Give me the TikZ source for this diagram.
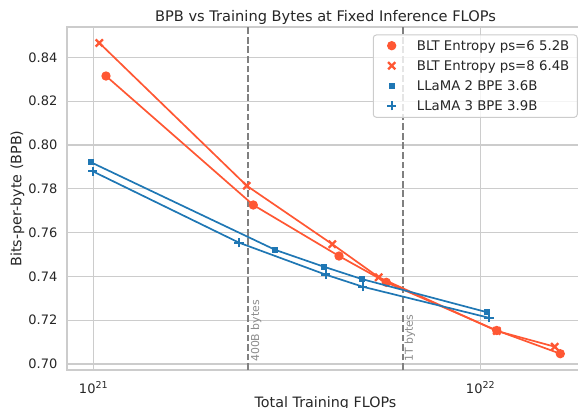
\documentclass[tikz,border=0pt]{standalone}
\usepackage{fontspec}
\setmainfont{DejaVu Sans}
\definecolor{blt}{RGB}{255,87,51}
\definecolor{bpe}{RGB}{31,119,180}
\definecolor{gridc}{RGB}{204,204,204}
\definecolor{tickc}{RGB}{38,38,38}
\definecolor{refc}{RGB}{128,128,128}
\definecolor{reftext}{RGB}{140,140,140}

\tikzset{
  gridline/.style={draw=gridc, line width=1.1pt},
  frame/.style={draw=gridc, line width=1.25pt},
  refline/.style={draw=refc, line width=1.8pt, dash pattern=on 6.7pt off 2.9pt},
  reflabel/.style={text=reftext, font=\fontsize{10.9}{12}\selectfont, rotate=90, anchor=north west, inner sep=0pt},
  ticklab/.style={text=tickc, font=\fontsize{13}{15}\selectfont, inner sep=0pt},
  axlab/.style={text=tickc, font=\fontsize{14.3}{16}\selectfont, inner sep=0pt},
  legtext/.style={text=tickc, font=\fontsize{13.3}{15}\selectfont, inner sep=0pt, anchor=base west},
  bltline/.style={draw=blt, line width=1.7pt, line join=round},
  bpeline/.style={draw=bpe, line width=1.7pt, line join=round},
  mdot/.pic={\fill[blt] (0,0) circle[radius=4.7pt];},
  mcross/.pic={\draw[blt, line width=2.3pt] (-3.6pt,-3.6pt) -- (3.6pt,3.6pt) (-3.6pt,3.6pt) -- (3.6pt,-3.6pt);},
  msquare/.pic={\fill[bpe] (-2.9pt,-2.9pt) rectangle (2.9pt,2.9pt);},
  mplus/.pic={\draw[bpe, line width=2.3pt] (-4.6pt,0) -- (4.6pt,0) (0,-4.6pt) -- (0,4.6pt);},
}

\begin{document}
\begin{tikzpicture}[x=1pt, y=1pt]
\useasboundingbox (0,0) rectangle (578,407);
\begin{scope}
\clip (0,0) rectangle (578,407);

% axes frame and grid
\draw[gridline] (67,43) -- (584,43);
\foreach \k in {1,...,7} \draw[gridline] (67,43+43.8*\k) -- (584,43+43.8*\k);
\draw[gridline] (93.3,37) -- (93.3,380);
\draw[gridline] (480.3,37) -- (480.3,380);
\draw[frame] (67,37) rectangle (584,380);

% reference training-data budgets
\draw[refline] (248.3,37) -- (248.3,380);
\draw[refline] (402.7,37) -- (402.7,380);
\node[reflabel] (l400b) at (250.6,45) {400B bytes};
\node[reflabel] (l1t) at (404.4,45) {1T bytes};

% data: x = log10(FLOPs) - 21, y = BPB - 0.70
\begin{scope}[shift={(93.3,43)}, x=387pt, y=2190pt]
  \coordinate (a1) at (0.0328,0.1315);
  \coordinate (a2) at (0.4134,0.0726);
  \coordinate (a3) at (0.6349,0.0493);
  \coordinate (a4) at (0.7571,0.0373);
  \coordinate (a5) at (1.0424,0.0153);
  \coordinate (a6) at (1.2067,0.0047);

  \coordinate (b1) at (0.0155,0.1466);
  \coordinate (b2) at (0.3964,0.0814);
  \coordinate (b3) at (0.6176,0.0547);
  \coordinate (b4) at (0.7375,0.0396);
  \coordinate (b5) at (1.0424,0.0151);
  \coordinate (b6) at (1.1922,0.0079);

  \coordinate (c1) at (-0.0059,0.0921);
  \coordinate (c2) at (0.4703,0.0521);
  \coordinate (c3) at (0.5961,0.0444);
  \coordinate (c4) at (0.6935,0.0388);
  \coordinate (c5) at (1.0181,0.0236);

  \coordinate (d1) at (-0.0016,0.0880);
  \coordinate (d2) at (0.3765,0.0554);
  \coordinate (d3) at (0.6005,0.0408);
  \coordinate (d4) at (0.6961,0.0353);
  \coordinate (d5) at (1.0225,0.0211);
\end{scope}

\draw[bltline] (a1) -- (a2) -- (a3) -- (a4) -- (a5) -- (a6);
\foreach \p in {a1,a2,a3,a4,a5,a6} \pic at (\p) {mdot};
\draw[bltline] (b1) -- (b2) -- (b3) -- (b4) -- (b5) -- (b6);
\foreach \p in {b1,b2,b3,b4,b5,b6} \pic at (\p) {mcross};
\draw[bpeline] (c1) -- (c2) -- (c3) -- (c4) -- (c5);
\foreach \p in {c1,c2,c3,c4,c5} \pic at (\p) {msquare};
\draw[bpeline] (d1) -- (d2) -- (d3) -- (d4) -- (d5);
\foreach \p in {d1,d2,d3,d4,d5} \pic at (\p) {mplus};

% legend
\draw[draw=gridc, line width=1pt, fill=white, fill opacity=0.8, rounded corners=3pt] (373.3,289.7) rectangle (577.3,372);
\pic at (391.7,361.3) {mdot};
\pic at (391.7,341.3) {mcross};
\pic at (391.7,321.3) {msquare};
\pic at (391.7,301.3) {mplus};
\node[legtext] (k1) at (416.7,356.5) {BLT Entropy ps=6 5.2B};
\node[legtext] (k2) at (416.7,336.5) {BLT Entropy ps=8 6.4B};
\node[legtext] (k3) at (416.7,316.5) {LLaMA 2 BPE 3.6B};
\node[legtext] (k4) at (416.7,296.5) {LLaMA 3 BPE 3.9B};

% tick labels
\foreach \k/\t in {0/0.70,1/0.72,2/0.74,3/0.76,4/0.78,5/0.80,6/0.82,7/0.84}
  \node[ticklab, anchor=east] at (57.5,43+43.8*\k) {\t};
\node[ticklab, anchor=base] (x21) at (93.3,14) {10\raisebox{5pt}{\fontsize{9.5}{10}\selectfont 21}};
\node[ticklab, anchor=base] (x22) at (480.3,14) {10\raisebox{5pt}{\fontsize{9.5}{10}\selectfont 22}};

% titles
\node[axlab, anchor=base] (title) at (325.5,385.3) {\fontsize{14.6}{16}\selectfont BPB vs Training Bytes at Fixed Inference FLOPs};
\node[axlab, anchor=base] (xlabel) at (325.5,0) {Total Training FLOPs};
\node[axlab, anchor=base, rotate=90] (ylabel) at (21.5,208.5) {Bits-per-byte (BPB)};
\end{scope}
\end{tikzpicture}
\end{document}
